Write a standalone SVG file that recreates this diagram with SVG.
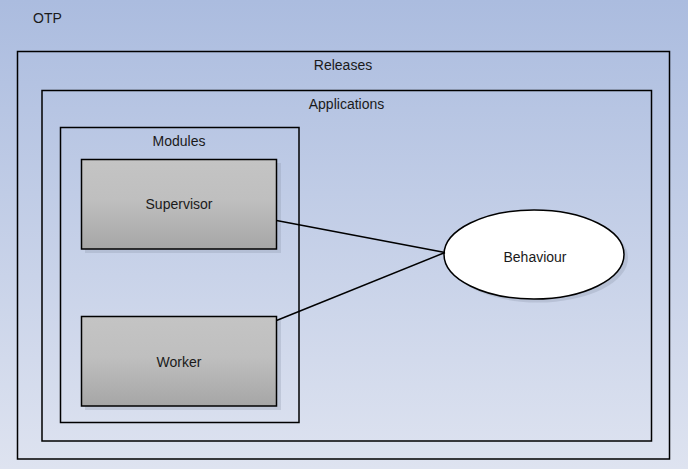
<svg xmlns="http://www.w3.org/2000/svg" width="688" height="469" viewBox="0 0 688 469">
<defs>
<linearGradient id="bg" x1="0" y1="0" x2="0" y2="1">
<stop offset="0" stop-color="#abbcdf"/>
<stop offset="1" stop-color="#dee3f0"/>
</linearGradient>
<linearGradient id="gray" x1="0" y1="0" x2="0" y2="1">
<stop offset="0" stop-color="#c4c4c4"/>
<stop offset="0.45" stop-color="#bfbfbf"/>
<stop offset="1" stop-color="#a6a6a6"/>
</linearGradient>
<style>
text{font-family:"Liberation Sans",Arial,sans-serif;font-size:14px;fill:#1a1a1a}
.c{text-anchor:middle}
.frame{fill:none;stroke:#000;stroke-width:1.5}
.shadow{fill:#8a94a8;opacity:0.3}
.box{fill:url(#gray);stroke:#000;stroke-width:1.5}
.conn{stroke:#000;stroke-width:1.5;fill:none}
</style>
</defs>
<rect x="0" y="0" width="688" height="469" fill="url(#bg)"/>
<text x="33" y="23">OTP</text>
<g id="releases">
<rect class="frame" x="17.5" y="51.5" width="652" height="407.5"/>
<text class="c" x="343" y="70">Releases</text>
</g>
<g id="applications">
<rect class="frame" x="42" y="90.5" width="609.5" height="350.5"/>
<text class="c" x="346.5" y="109">Applications</text>
</g>
<g id="modules">
<rect class="frame" x="60.5" y="127.5" width="238.5" height="295"/>
<text class="c" x="179" y="146">Modules</text>
</g>
<g id="supervisor">
<rect class="shadow" x="85" y="163" width="196" height="90"/>
<rect class="box" x="81.5" y="159.5" width="195" height="89.5"/>
<text class="c" x="179" y="209" fill="#333">Supervisor</text>
</g>
<g id="worker">
<rect class="shadow" x="85" y="320" width="196" height="90"/>
<rect class="box" x="81.5" y="316.5" width="195" height="89.5"/>
<text class="c" x="179" y="367">Worker</text>
</g>
<g id="behaviour">
<ellipse class="shadow" cx="538" cy="258" rx="90" ry="44.5"/>
<ellipse cx="534" cy="254.5" rx="90" ry="44.5" fill="#fff" stroke="#000" stroke-width="1.5"/>
<text class="c" x="535" y="262">Behaviour</text>
</g>
<g id="connectors">
<line class="conn" x1="276.5" y1="220.5" x2="445" y2="252.5"/>
<line class="conn" x1="276.5" y1="320.5" x2="445" y2="252.5"/>
</g>
</svg>
